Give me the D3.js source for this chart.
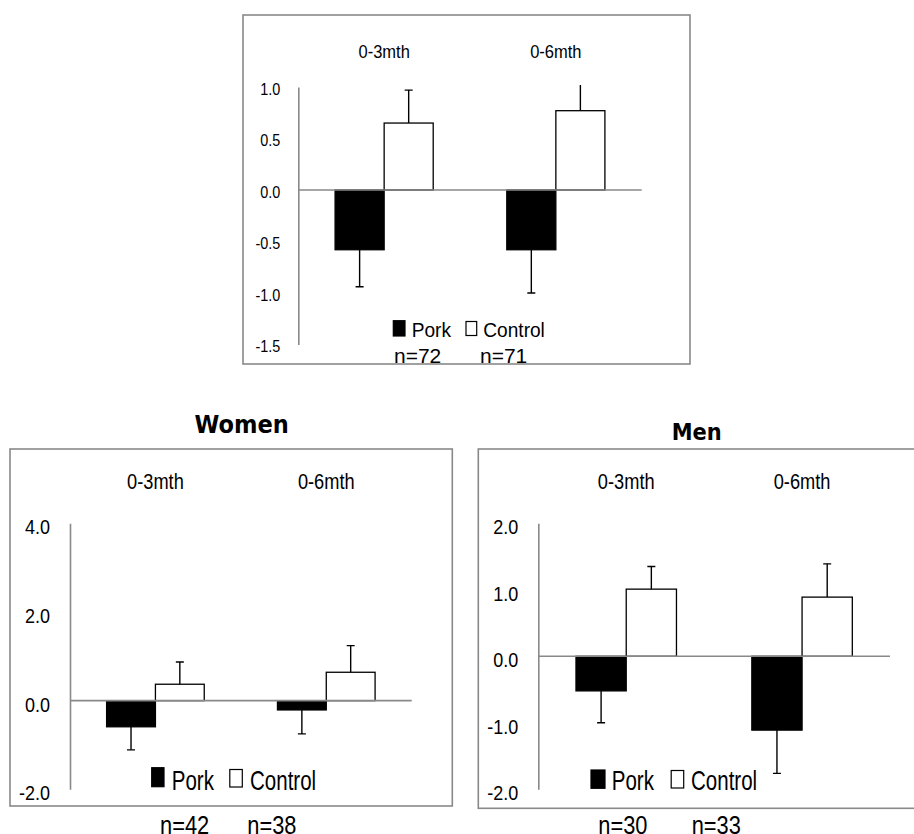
<!DOCTYPE html>
<html>
<head>
<meta charset="utf-8">
<script src="https://cdn.jsdelivr.net/npm/d3@7"></script>
<style>
  html, body { margin: 0; padding: 0; background: #fff; }
  svg { display: block; }
</style>
</head>
<body>
<svg id="chart" width="914" height="834"></svg>
<script>
// Categories and series
const periods = ["0-3mth", "0-6mth"];
const groups = ["Pork", "Control"];

// All participants
const allPork = [-0.58, -0.58];
const allPorkErr = [0.36, 0.42];
const allControl = [0.65, 0.77];
const allControlErr = [0.32, 0.26];
const allTicks = [1.0, 0.5, 0.0, -0.5, -1.0, -1.5];
const allN = ["n=72", "n=71"];

// Women
const womenPork = [-0.59, -0.21];
const womenPorkErr = [0.52, 0.54];
const womenControl = [0.37, 0.64];
const womenControlErr = [0.50, 0.60];
const womenTicks = [4.0, 2.0, 0.0, -2.0];
const womenN = ["n=42", "n=38"];

// Men
const menPork = [-0.52, -1.11];
const menPorkErr = [0.48, 0.65];
const menControl = [1.01, 0.89];
const menControlErr = [0.34, 0.50];
const menTicks = [2.0, 1.0, 0.0, -1.0, -2.0];
const menN = ["n=30", "n=33"];

const FONT = "'Liberation Sans', Arial, sans-serif";
const TITLE_FONT = "'DejaVu Sans', Verdana, sans-serif";
const GREY = "#898989";

const svg = d3.select("#chart");

function txt(parent, x, y, s, o) {
  return parent.append("text")
    .attr("transform", `translate(${x},${y}) scale(${o.sx || 1},${o.sy || 1})`)
    .attr("text-anchor", o.anchor || "start")
    .style("font-family", o.family || FONT)
    .style("font-size", o.size + "px")
    .style("font-weight", o.weight || "normal")
    .attr("fill", "#000")
    .text(s);
}

let clipId = 0;

function panel(p) {
  const g = svg.append("g");

  // chart frame
  g.append("rect")
    .attr("x", p.frame.x).attr("y", p.frame.y)
    .attr("width", p.frame.w).attr("height", p.frame.h)
    .attr("fill", "#fff").attr("stroke", GREY).attr("stroke-width", 1.6);

  if (p.title) {
    txt(svg, p.title.x, p.title.y, p.title.text,
      { size: p.title.size, sx: p.title.sx, anchor: "middle", weight: "bold", family: TITLE_FONT });
  }

  const y = d3.scaleLinear().domain(p.domain).range([p.bottom, p.top]);
  const x = d3.scaleBand().domain(periods).range([p.axisX, p.right]);
  const barW = x.bandwidth() / 3.5;

  const id = "plot-clip-" + (clipId++);
  g.append("clipPath").attr("id", id).append("rect")
    .attr("x", p.axisX).attr("y", p.top - 2)
    .attr("width", p.right - p.axisX).attr("height", p.bottom - p.top + 2);

  const plot = g.append("g").attr("clip-path", `url(#${id})`);

  const series = [
    { name: "Pork", values: p.pork, err: p.porkErr, fill: "#000", offset: -1, dir: -1 },
    { name: "Control", values: p.control, err: p.controlErr, fill: "#fff", offset: 0, dir: 1 }
  ];

  series.forEach(s => {
    const cx = i => x(periods[i]) + x.bandwidth() / 2 + s.offset * barW;
    // bars
    plot.selectAll(null).data(s.values).enter().append("rect")
      .attr("x", (d, i) => cx(i))
      .attr("y", d => y(Math.max(0, d)))
      .attr("width", barW)
      .attr("height", d => Math.abs(y(d) - y(0)))
      .attr("fill", s.fill).attr("stroke", "#000").attr("stroke-width", 1.3);
    // one-sided error bars
    const eb = plot.selectAll(null).data(s.values).enter().append("g");
    eb.append("line")
      .attr("x1", (d, i) => cx(i) + barW / 2).attr("x2", (d, i) => cx(i) + barW / 2)
      .attr("y1", d => y(d))
      .attr("y2", (d, i) => y(d + s.dir * s.err[i]))
      .attr("stroke", "#000").attr("stroke-width", 1.4);
    eb.append("line")
      .attr("x1", (d, i) => cx(i) + barW / 2 - 4).attr("x2", (d, i) => cx(i) + barW / 2 + 4)
      .attr("y1", (d, i) => y(d + s.dir * s.err[i]))
      .attr("y2", (d, i) => y(d + s.dir * s.err[i]))
      .attr("stroke", "#000").attr("stroke-width", 1.4);
  });

  // category axis along zero
  g.append("line")
    .attr("x1", p.axisX).attr("x2", p.right)
    .attr("y1", y(0)).attr("y2", y(0))
    .attr("stroke", GREY).attr("stroke-width", 1.6);

  // value axis
  const ax = g.append("g")
    .attr("transform", `translate(${p.axisX},0)`)
    .call(d3.axisLeft(y).tickValues(p.ticks).tickSize(0).tickSizeOuter(0)
      .tickFormat(d => d.toFixed(1)));
  ax.select(".domain").attr("stroke", GREY).attr("stroke-width", 1.6);
  ax.selectAll(".tick text")
    .attr("x", null).attr("dy", null)
    .attr("transform", `translate(${-p.tick.gap},${p.tick.dy}) scale(${p.tick.sx},${p.tick.sy || 1})`)
    .attr("text-anchor", "end")
    .attr("fill", "#000")
    .style("font-family", FONT)
    .style("font-size", p.tick.size + "px");

  // period labels
  periods.forEach(c => {
    txt(g, x(c) + x.bandwidth() / 2, p.cat.y, c, { size: p.cat.size, sx: p.cat.sx, sy: p.cat.sy, anchor: "middle" });
  });

  // legend
  groups.forEach((name, i) => {
    const sq = p.legend.squares[i];
    g.append("rect")
      .attr("x", sq.x).attr("y", sq.y).attr("width", sq.w).attr("height", sq.h)
      .attr("fill", i === 0 ? "#000" : "#fff")
      .attr("stroke", "#000").attr("stroke-width", 1.2);
    txt(g, p.legend.textX[i], p.legend.y, name, { size: p.legend.size, sx: p.legend.sx });
  });

  // sample sizes
  p.n.forEach((s, i) => {
    txt(svg, p.nPos.x[i], p.nPos.y, s, { size: p.nPos.size, sx: p.nPos.sx });
  });
}

panel({
  frame: { x: 243, y: 15, w: 447, h: 349 },
  axisX: 298.3, right: 641.7, top: 87, bottom: 344.5,
  domain: [-1.5, 1.0], ticks: allTicks,
  pork: allPork, porkErr: allPorkErr, control: allControl, controlErr: allControlErr,
  tick: { size: 15.5, sx: 0.93, sy: 1.1, gap: 18, dy: 7 },
  cat: { y: 58, size: 16.5, sx: 1.0, sy: 1.1 },
  legend: {
    squares: [{ x: 393.3, y: 320.7, w: 11.7, h: 15.3 }, { x: 466, y: 321.5, w: 10.7, h: 14 }],
    textX: [411.7, 483.3], y: 336.7, size: 21, sx: 0.91
  },
  n: allN, nPos: { x: [394, 480], y: 363.3, size: 20, sx: 1.05 }
});

panel({
  frame: { x: 10, y: 449, w: 442.3, h: 357 },
  axisX: 70, right: 411.7, top: 523.3, bottom: 789.3,
  domain: [-2, 4], ticks: womenTicks,
  pork: womenPork, porkErr: womenPorkErr, control: womenControl, controlErr: womenControlErr,
  tick: { size: 18, sx: 1.0, sy: 1.08, gap: 20, dy: 10.5 },
  cat: { y: 489, size: 19, sx: 0.96, sy: 1.12 },
  legend: {
    squares: [{ x: 151.7, y: 767.7, w: 12.3, h: 19 }, { x: 229.8, y: 769.5, w: 12.5, h: 17.5 }],
    textX: [171.7, 250], y: 790, size: 28.5, sx: 0.72
  },
  n: womenN, nPos: { x: [160, 247.3], y: 833.5, size: 26, sx: 0.84 },
  title: { text: "Women", x: 241.7, y: 433, size: 24.5, sx: 0.92 }
});

panel({
  frame: { x: 478.3, y: 449, w: 440, h: 359.3 },
  axisX: 538.3, right: 890, top: 523.3, bottom: 789.3,
  domain: [-2, 2], ticks: menTicks,
  pork: menPork, porkErr: menPorkErr, control: menControl, controlErr: menControlErr,
  tick: { size: 18, sx: 1.0, sy: 1.08, gap: 20, dy: 10.5 },
  cat: { y: 489, size: 19, sx: 0.96, sy: 1.12 },
  legend: {
    squares: [{ x: 591, y: 770, w: 14, h: 18.3 }, { x: 671.2, y: 770.5, w: 12.5, h: 17.5 }],
    textX: [611.7, 691], y: 790, size: 28.5, sx: 0.72
  },
  n: menN, nPos: { x: [598.3, 691.7], y: 833.5, size: 26, sx: 0.84 },
  title: { text: "Men", x: 696.7, y: 440, size: 23.3, sx: 0.9 }
});
</script>
</body>
</html>
